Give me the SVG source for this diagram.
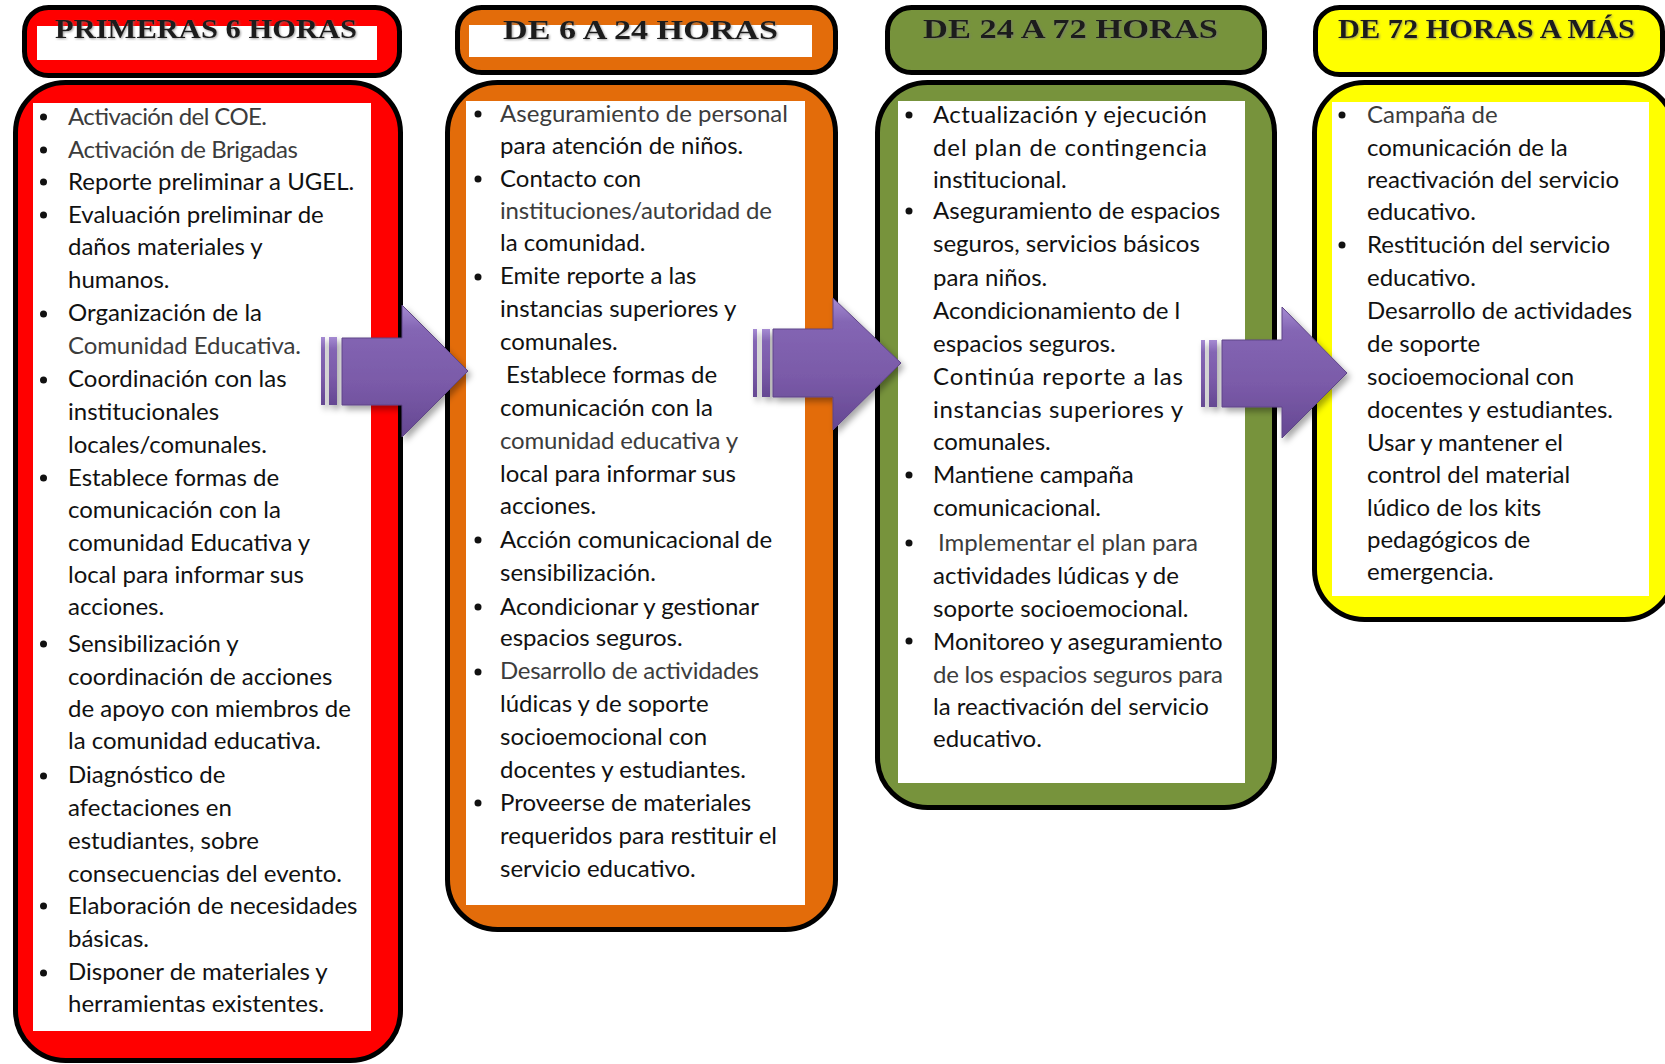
<svg xmlns="http://www.w3.org/2000/svg" width="1665" height="1064" viewBox="0 0 1665 1064">
<defs>
<style>
.hd{stroke:#000;stroke-width:5}
.bd{stroke:#000;stroke-width:5}
.wt{fill:#fff}
.tt{font-family:"Liberation Serif","Times New Roman",serif;font-weight:bold;font-size:27px;fill:#1a1a1a;text-anchor:middle}
.tx{font-family:Lato,"Open Sans",sans-serif;font-size:24px;fill:#111}
.lt{fill:#3c3c3c}
.bl{fill:#111}
.ar{fill:url(#ag);stroke:#5e4487;stroke-width:1}
.br{fill:url(#ag)}
</style>
<linearGradient id="ag" x1="0" y1="0" x2="0" y2="1">
<stop offset="0" stop-color="#a58bd2"/>
<stop offset="0.18" stop-color="#8466b4"/>
<stop offset="0.6" stop-color="#7a5aa8"/>
<stop offset="1" stop-color="#654892"/>
</linearGradient>
<filter id="sh" x="-20%" y="-20%" width="150%" height="150%">
<feDropShadow dx="3" dy="4" stdDeviation="3" flood-color="#000" flood-opacity="0.35"/>
</filter>
<filter id="ts" x="-5%" y="-20%" width="110%" height="150%">
<feDropShadow dx="1" dy="1" stdDeviation="0.8" flood-color="#777" flood-opacity="0.7"/>
</filter>
</defs>

<g id="header-1">
<rect class="hd" x="24.5" y="7.5" width="375" height="68" rx="24" fill="#ff0000"/>
<rect class="wt" x="37" y="26" width="340" height="34"/>
<text class="tt" x="206" y="38" textLength="302" lengthAdjust="spacingAndGlyphs" filter="url(#ts)">PRIMERAS 6 HORAS</text>
</g>
<g id="header-2">
<rect class="hd" x="457.5" y="7.5" width="378" height="65" rx="24" fill="#e36c0a"/>
<rect class="wt" x="469" y="25" width="343" height="32"/>
<text class="tt" x="640.5" y="39" textLength="275" lengthAdjust="spacingAndGlyphs" filter="url(#ts)">DE 6 A 24 HORAS</text>
</g>
<g id="header-3">
<rect class="hd" x="887.5" y="7.5" width="377" height="65" rx="24" fill="#77933c"/>
<text class="tt" x="1070.5" y="38" textLength="295" lengthAdjust="spacingAndGlyphs" filter="url(#ts)">DE 24 A 72 HORAS</text>
</g>
<g id="header-4">
<rect class="hd" x="1315.5" y="7.5" width="347" height="67" rx="24" fill="#ffff00"/>
<text class="tt" x="1486.5" y="38" textLength="297" lengthAdjust="spacingAndGlyphs" filter="url(#ts)">DE 72 HORAS A MÁS</text>
</g>

<g id="body-1">
<rect class="bd" x="15.5" y="82.5" width="385" height="978" rx="50" fill="#ff0000"/>
<rect class="wt" x="33" y="103" width="338" height="928"/>
<g class="bl">
<circle cx="43.5" cy="117" r="3.5"/><circle cx="43.5" cy="150" r="3.5"/><circle cx="43.5" cy="182" r="3.5"/><circle cx="43.5" cy="215" r="3.5"/><circle cx="43.5" cy="314" r="3.5"/><circle cx="43.5" cy="380" r="3.5"/><circle cx="43.5" cy="478" r="3.5"/><circle cx="43.5" cy="644" r="3.5"/><circle cx="43.5" cy="776" r="3.5"/><circle cx="43.5" cy="906" r="3.5"/><circle cx="43.5" cy="973" r="3.5"/>
</g>
<g class="tx">
<text class="lt" x="68" y="125" textLength="199" lengthAdjust="spacing">Activación del COE.</text>
<text class="lt" x="68" y="158" textLength="230" lengthAdjust="spacing">Activación de Brigadas</text>
<text x="68" y="190">Reporte preliminar a UGEL.</text>
<text x="68" y="222.5">Evaluación preliminar de</text>
<text x="68" y="255">daños materiales y</text>
<text x="68" y="288">humanos.</text>
<text x="68" y="321">Organización de la</text>
<text class="lt" x="68" y="354" textLength="233" lengthAdjust="spacing">Comunidad Educativa.</text>
<text x="68" y="387">Coordinación con las</text>
<text x="68" y="420">institucionales</text>
<text x="68" y="453">locales/comunales.</text>
<text x="68" y="486">Establece formas de</text>
<text x="68" y="518">comunicación con la</text>
<text x="68" y="550.5">comunidad Educativa y</text>
<text x="68" y="582.5">local para informar sus</text>
<text x="68" y="615">acciones.</text>
<text x="68" y="651.5">Sensibilización y</text>
<text x="68" y="684.5">coordinación de acciones</text>
<text x="68" y="717">de apoyo con miembros de</text>
<text x="68" y="749">la comunidad educativa.</text>
<text x="68" y="783">Diagnóstico de</text>
<text x="68" y="816">afectaciones en</text>
<text x="68" y="849">estudiantes, sobre</text>
<text x="68" y="882">consecuencias del evento.</text>
<text x="68" y="913.5">Elaboración de necesidades</text>
<text x="68" y="947">básicas.</text>
<text x="68" y="980">Disponer de materiales y</text>
<text x="68" y="1012">herramientas existentes.</text>
</g>
</g>

<g id="body-2">
<rect class="bd" x="447.5" y="82.5" width="388" height="847" rx="50" fill="#e36c0a"/>
<rect class="wt" x="466" y="101" width="339" height="804"/>
<g class="bl">
<circle cx="478" cy="114" r="3.5"/><circle cx="478" cy="179" r="3.5"/><circle cx="478" cy="277" r="3.5"/><circle cx="478" cy="540" r="3.5"/><circle cx="478" cy="607" r="3.5"/><circle cx="478" cy="672" r="3.5"/><circle cx="478" cy="803" r="3.5"/>
</g>
<g class="tx">
<text class="lt" x="500" y="122" textLength="288" lengthAdjust="spacing">Aseguramiento de  personal</text>
<text x="500" y="153.5">para atención de niños.</text>
<text x="500" y="186.5">Contacto con</text>
<text class="lt" x="500" y="218.5" textLength="272" lengthAdjust="spacing">instituciones/autoridad de</text>
<text x="500" y="251">la comunidad.</text>
<text x="500" y="284">Emite reporte a las</text>
<text x="500" y="317">instancias superiores y</text>
<text x="500" y="350">comunales.</text>
<text x="506" y="383">Establece formas de</text>
<text x="500" y="416">comunicación con la</text>
<text class="lt" x="500" y="449" textLength="238" lengthAdjust="spacing">comunidad educativa y</text>
<text x="500" y="481.5">local para informar sus</text>
<text x="500" y="513.5">acciones.</text>
<text x="500" y="547.5">Acción comunicacional de</text>
<text x="500" y="580.5">sensibilización.</text>
<text x="500" y="614.5">Acondicionar y gestionar</text>
<text x="500" y="646">espacios seguros.</text>
<text class="lt" x="500" y="679" textLength="259" lengthAdjust="spacing">Desarrollo de actividades</text>
<text x="500" y="712">lúdicas y de soporte</text>
<text x="500" y="745">socioemocional con</text>
<text x="500" y="778">docentes y estudiantes.</text>
<text x="500" y="811">Proveerse de materiales</text>
<text x="500" y="843.5">requeridos para restituir el</text>
<text x="500" y="876.5">servicio educativo.</text>
</g>
</g>

<g id="body-3">
<rect class="bd" x="877.5" y="82.5" width="397" height="725" rx="50" fill="#77933c"/>
<rect class="wt" x="898" y="101" width="347" height="682"/>
<g class="bl">
<circle cx="909" cy="115" r="3.5"/><circle cx="909" cy="211" r="3.5"/><circle cx="909" cy="475" r="3.5"/><circle cx="909" cy="543" r="3.5"/><circle cx="909" cy="641" r="3.5"/>
</g>
<g class="tx">
<text x="933" y="123" textLength="274" lengthAdjust="spacing">Actualización y ejecución</text>
<text x="933" y="155.5" textLength="274" lengthAdjust="spacing">del plan de contingencia</text>
<text x="933" y="187.5">institucional.</text>
<text x="933" y="219">Aseguramiento de espacios</text>
<text x="933" y="252">seguros, servicios básicos</text>
<text x="933" y="286">para niños.</text>
<text x="933" y="319">Acondicionamiento de l</text>
<text x="933" y="352">espacios seguros.</text>
<text x="933" y="385" textLength="250" lengthAdjust="spacing">Continúa reporte a las</text>
<text x="933" y="418" textLength="250" lengthAdjust="spacing">instancias superiores y</text>
<text x="933" y="450">comunales.</text>
<text x="933" y="483">Mantiene campaña</text>
<text x="933" y="515.5">comunicacional.</text>
<text class="lt" x="938" y="550.5" textLength="260" lengthAdjust="spacing">Implementar el plan para</text>
<text x="933" y="583.5">actividades lúdicas y de</text>
<text x="933" y="616.5">soporte socioemocional.</text>
<text x="933" y="649.5">Monitoreo y aseguramiento</text>
<text class="lt" x="933" y="682.5" textLength="290" lengthAdjust="spacing">de los espacios seguros para</text>
<text x="933" y="714.5">la reactivación del servicio</text>
<text x="933" y="747">educativo.</text>
</g>
</g>

<g id="body-4">
<rect class="bd" x="1314.5" y="82.5" width="360" height="537" rx="50" fill="#ffff00"/>
<rect class="wt" x="1332" y="102" width="317" height="494"/>
<g class="bl">
<circle cx="1342" cy="115" r="3.5"/><circle cx="1342" cy="245" r="3.5"/>
</g>
<g class="tx">
<text class="lt" x="1367" y="123">Campaña de</text>
<text x="1367" y="155.5">comunicación de la</text>
<text x="1367" y="187.5">reactivación del servicio</text>
<text x="1367" y="219.5">educativo.</text>
<text x="1367" y="253">Restitución del servicio</text>
<text x="1367" y="286">educativo.</text>
<text x="1367" y="319">Desarrollo de actividades</text>
<text x="1367" y="352">de soporte</text>
<text x="1367" y="385">socioemocional con</text>
<text x="1367" y="418">docentes y estudiantes.</text>
<text x="1367" y="451">Usar y mantener el</text>
<text x="1367" y="483">control del material</text>
<text x="1367" y="515.5">lúdico de los kits</text>
<text x="1367" y="547.5">pedagógicos de</text>
<text x="1367" y="580">emergencia.</text>
</g>
</g>

<g id="connectors" filter="url(#sh)">
<g id="arrow-1">
<rect class="br" x="321" y="337" width="4" height="68"/>
<rect class="br" x="329" y="337" width="8" height="68"/>
<polygon class="ar" points="342,338 402,338 402,305 468,371 402,437 402,405 342,405"/>
</g>
<g id="arrow-2">
<rect class="br" x="753" y="329" width="4" height="68"/>
<rect class="br" x="762" y="329" width="8" height="68"/>
<polygon class="ar" points="773,329 833,329 833,298 901,363 833,430 833,397 773,397"/>
</g>
<g id="arrow-3">
<rect class="br" x="1201" y="340" width="4" height="67"/>
<rect class="br" x="1209" y="340" width="8" height="67"/>
<polygon class="ar" points="1222,340 1282,340 1282,307 1347,373 1282,438 1282,407 1222,407"/>
</g>
</g>
</svg>
